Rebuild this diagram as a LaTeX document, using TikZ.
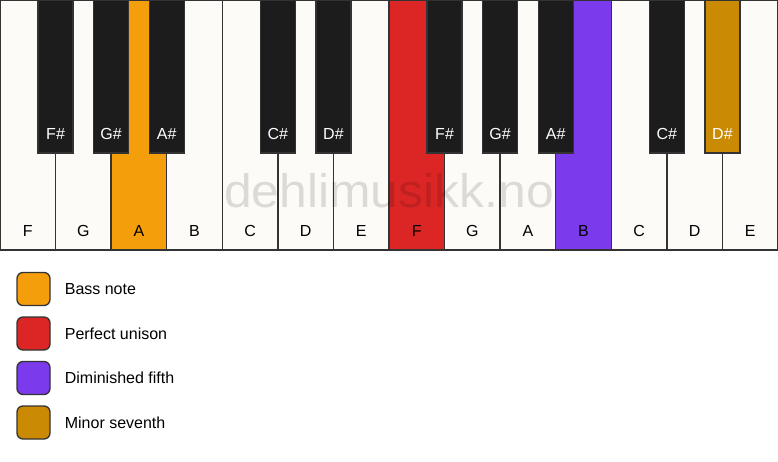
\documentclass[tikz,border=0pt]{standalone}
\usepackage{fontspec}
\setmainfont{Liberation Sans}
\usepackage{xcolor}
\usepackage{tikz}
\usetikzlibrary{positioning}

\definecolor{ivory}{HTML}{FCFBF8}
\definecolor{ebony}{HTML}{1C1C1C}
\definecolor{keyline}{HTML}{333333}
\definecolor{bassnote}{HTML}{F59E0B}
\definecolor{unison}{HTML}{DC2626}
\definecolor{dimfifth}{HTML}{7C3AED}
\definecolor{minseventh}{HTML}{CA8A04}

\tikzset{
  whitekey/.style={draw=keyline, line width=1.3pt, fill=ivory, minimum width=55.571pt, minimum height=250pt, anchor=north west, inner sep=0pt, outer sep=0pt},
  blackkey/.style={draw=keyline, line width=1.3pt, fill=ebony, minimum width=35pt, minimum height=153pt, anchor=north, inner sep=0pt, outer sep=0pt},
  keytext/.style={anchor=base, inner sep=0pt, font=\fontsize{16}{18}\selectfont},
  legendbox/.style={draw=keyline, line width=1.3pt, rounded corners=6pt, minimum size=33pt, inner sep=0pt},
  legendtext/.style={anchor=west, inner sep=0pt, font=\fontsize{16}{18}\selectfont}
}

\begin{document}
\begin{tikzpicture}[x=1pt, y=-1pt]
                \useasboundingbox (0,0) rectangle (778,461);

                \foreach \i/\n/\c in {0/F/ivory, 1/G/ivory, 2/A/bassnote, 3/B/ivory, 4/C/ivory, 5/D/ivory, 6/E/ivory, 7/F/unison, 8/G/ivory, 9/A/ivory, 10/B/dimfifth, 11/C/ivory, 12/D/ivory, 13/E/ivory}{
                  \node[whitekey, fill=\c] (w\i) at (\i*55.571,0) {};
                  \node[keytext] (n\i) at ([yshift=14pt]w\i.south) {\n};
                }

                \foreach \i/\n/\c in {0/F\#/ebony, 1/G\#/ebony, 2/A\#/ebony, 4/C\#/ebony, 5/D\#/ebony, 7/F\#/ebony, 8/G\#/ebony, 9/A\#/ebony, 11/C\#/ebony, 12/D\#/minseventh}{
                  \node[blackkey, fill=\c] (b\i) at (w\i.north east) {};
                  \node[keytext, white] (s\i) at ([yshift=14pt]b\i.south) {\n};
                }

                \node[anchor=base, inner sep=0pt, text=black, text opacity=0.13, font=\fontsize{47}{50}\selectfont, xscale=1.06, transform shape] (mark) at (389,207) {dehlimusikk.no};

                \foreach \i/\c/\t in {1/bassnote/Bass note, 2/unison/Perfect unison, 3/dimfifth/Diminished fifth, 4/minseventh/Minor seventh}{
                  \node[legendbox, fill=\c] (lb\i) at (33.5,244.5+\i*44.5) {};
                  \node[legendtext, right=14pt of lb\i] (lt\i) {\t};
                }

			\end{tikzpicture}
\end{document}
